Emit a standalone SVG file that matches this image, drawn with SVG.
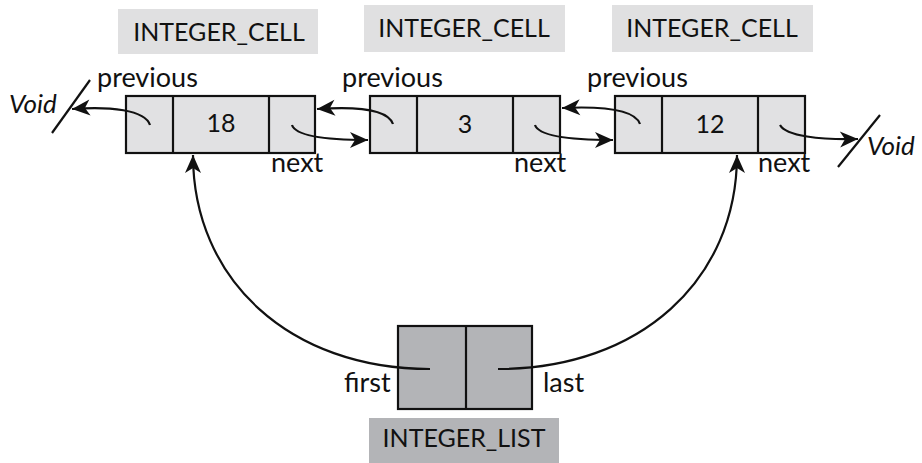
<svg xmlns="http://www.w3.org/2000/svg" width="922" height="463" viewBox="0 0 922 463">
  <style>
    text { font-family: "Lato", "Liberation Sans", sans-serif; fill: #111; }
    .type { font-size: 25px; text-anchor: middle; }
    .field { font-size: 27px; }
    .val { font-size: 25px; text-anchor: middle; }
    .void { font-size: 26px; font-style: italic; }
    .cell { fill: #e1e1e3; stroke: #111; stroke-width: 2.2; }
    .lst { fill: #b3b4b7; stroke: #111; stroke-width: 2.2; }
    .tag { fill: #e0e0e1; }
    .tagdark { fill: #b3b4b7; }
    .div { stroke: #111; stroke-width: 2.2; }
    .link { fill: none; stroke: #111; stroke-width: 2.2; marker-end: url(#head); }
    .nil { stroke: #111; stroke-width: 2.2; }
  </style>
  <defs>
    <marker id="head" markerUnits="userSpaceOnUse" markerWidth="24" markerHeight="24" viewBox="-20 -10 24 20" refX="0" refY="0" orient="auto">
      <path d="M0,0 L-18,-8 L-13,0 L-18,8 Z" fill="#111"/>
    </marker>
  </defs>

  <!-- first cell: 18 -->
  <g id="cell1">
    <rect class="tag" x="118" y="9" width="200" height="45"/>
    <text class="type" x="219" y="41">INTEGER_CELL</text>
    <rect class="cell" x="126" y="96" width="189" height="57"/>
    <line class="div" x1="173" y1="96" x2="173" y2="153"/>
    <line class="div" x1="269" y1="96" x2="269" y2="153"/>
    <text class="val" x="221" y="132">18</text>
    <text class="field" x="97" y="87">previous</text>
    <text class="field" x="271" y="172">next</text>
  </g>

  <!-- second cell: 3 -->
  <g id="cell2">
    <rect class="tag" x="364" y="5" width="201" height="47"/>
    <text class="type" x="464" y="37">INTEGER_CELL</text>
    <rect class="cell" x="370" y="96" width="190" height="57"/>
    <line class="div" x1="417" y1="96" x2="417" y2="153"/>
    <line class="div" x1="513" y1="96" x2="513" y2="153"/>
    <text class="val" x="465" y="133">3</text>
    <text class="field" x="342" y="87">previous</text>
    <text class="field" x="514" y="172">next</text>
  </g>

  <!-- third cell: 12 -->
  <g id="cell3">
    <rect class="tag" x="612" y="5" width="201" height="47"/>
    <text class="type" x="712" y="37">INTEGER_CELL</text>
    <rect class="cell" x="615" y="96" width="190" height="57"/>
    <line class="div" x1="662" y1="96" x2="662" y2="153"/>
    <line class="div" x1="758" y1="96" x2="758" y2="153"/>
    <text class="val" x="710" y="133">12</text>
    <text class="field" x="587" y="87">previous</text>
    <text class="field" x="758" y="172">next</text>
  </g>

  <!-- list header with first / last -->
  <g id="list">
    <rect class="lst" x="398" y="326" width="134" height="83"/>
    <line class="div" x1="466" y1="326" x2="466" y2="409"/>
    <text class="field" x="344" y="392">first</text>
    <text class="field" x="543" y="392">last</text>
    <rect class="tagdark" x="369" y="418" width="190" height="45"/>
    <text class="type" x="464" y="447">INTEGER_LIST</text>
  </g>

  <!-- Void terminators -->
  <g id="void-left">
    <line class="nil" x1="52" y1="133" x2="90" y2="80"/>
    <text class="void" x="9" y="113">Void</text>
  </g>
  <g id="void-right">
    <line class="nil" x1="838" y1="167" x2="880" y2="115"/>
    <text class="void" x="867" y="155">Void</text>
  </g>

  <!-- references between cells -->
  <g id="connectors">
    <path class="link" d="M150,125 C145,110 110,106 72,109"/>
    <path class="link" d="M292,125 C296,137 330,140 368,140"/>
    <path class="link" d="M393,124 C388,110 360,106 317,109"/>
    <path class="link" d="M535,125 C539,137 575,140 613,140"/>
    <path class="link" d="M640,124 C635,110 605,106 562,108"/>
    <path class="link" d="M780,125 C786,136 820,140 858,139"/>
    <path class="link" d="M430,369 C290,369 193,280 193,155"/>
    <path class="link" d="M498,369 C640,369 737,280 737,155"/>
  </g>
</svg>
